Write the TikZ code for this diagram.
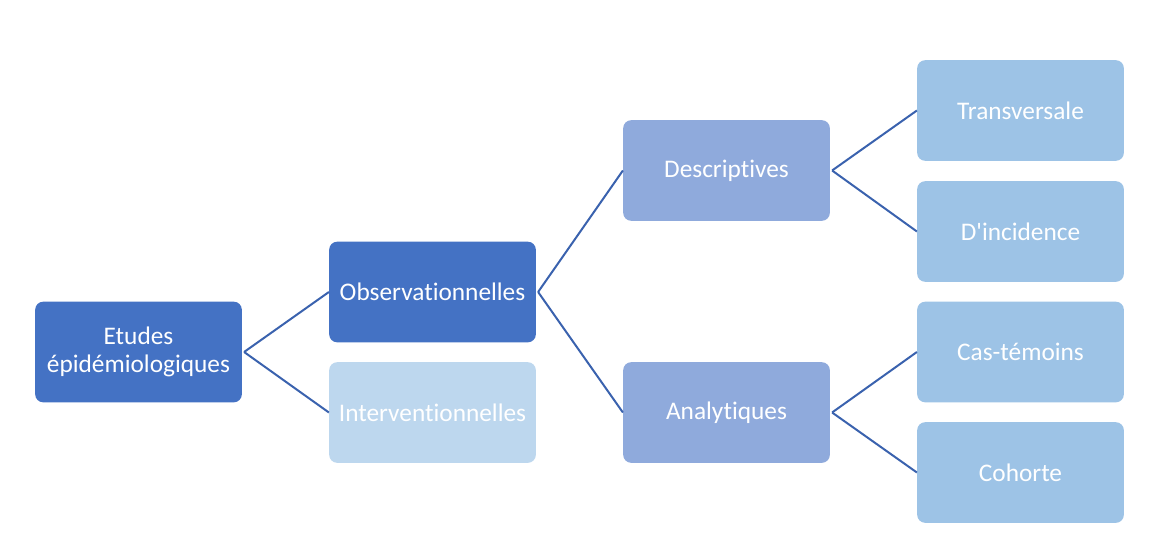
\documentclass[tikz,border=0pt]{standalone}
\usepackage{fontspec}
\newfontfamily\carl{Carlito}[Ligatures=NoCommon]
\definecolor{dark}{HTML}{4472C4}
\definecolor{pale}{HTML}{BDD7EE}
\definecolor{mid}{HTML}{8FAADC}
\definecolor{leaf}{HTML}{9DC3E6}
\definecolor{wire}{HTML}{3A62AE}
\begin{document}
\begin{tikzpicture}[x=0.75pt,y=-0.75pt]
            \tikzstyle{box}=[rectangle, rounded corners=6pt, draw=none, text=white, minimum width=155pt, minimum height=75.5pt, align=center, font=\carl\fontsize{19}{20.5}\selectfont, inner sep=2pt]
            \tikzstyle{link}=[draw=wire, line width=1.5pt]
            \useasboundingbox (0,0) rectangle (1157,542);
            \node[box, fill=dark] (Et) at (138.5,352) {Etudes\\épidémiologiques};
            \node[box, fill=dark] (Ob) at (432.5,292) {Observationnelles};
            \node[box, fill=pale] (In) at (432.5,412.5) {Interventionnelles};
            \node[box, fill=mid] (De) at (726.5,170.5) {Descriptives};
            \node[box, fill=mid] (An) at (726.5,412.5) {Analytiques};
            \node[box, fill=leaf] (Tr) at (1020.5,110.5) {Transversale};
            \node[box, fill=leaf] (Di) at (1020.5,231.5) {D'incidence};
            \node[box, fill=leaf] (Ca) at (1020.5,352) {Cas-témoins};
            \node[box, fill=leaf] (Co) at (1020.5,472.5) {Cohorte};
            \path [link] ([xshift=1.5pt]Et.east) edge (Ob.west);
            \path [link] ([xshift=1.5pt]Et.east) edge (In.west);
            \path [link] ([xshift=1.5pt]Ob.east) edge (De.west);
            \path [link] ([xshift=1.5pt]Ob.east) edge (An.west);
            \path [link] ([xshift=1.5pt]De.east) edge (Tr.west);
            \path [link] ([xshift=1.5pt]De.east) edge (Di.west);
            \path [link] ([xshift=1.5pt]An.east) edge (Ca.west);
            \path [link] ([xshift=1.5pt]An.east) edge (Co.west);
        \end{tikzpicture}
\end{document}
